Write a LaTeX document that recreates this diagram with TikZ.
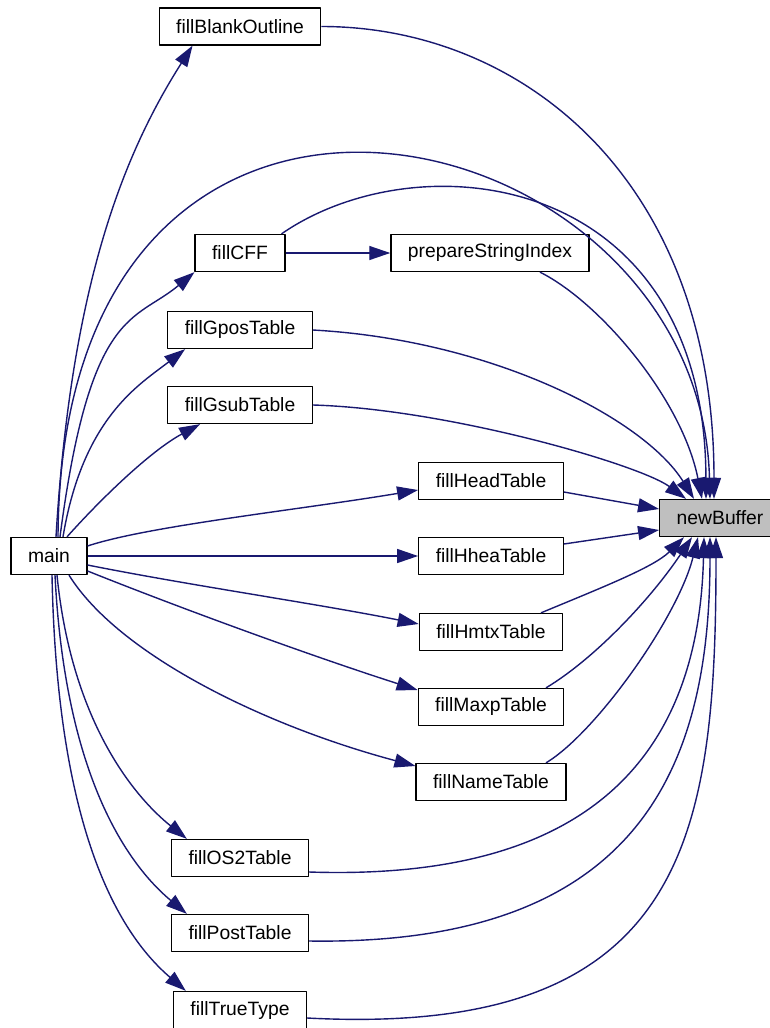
\documentclass[tikz,border=0pt]{standalone}
\usepackage{fontspec}
\setmainfont{Liberation Sans}
\usetikzlibrary{arrows.meta}
\definecolor{edgeblue}{HTML}{191970}
\begin{document}
\begin{tikzpicture}[x=1pt, y=-1pt, line join=round,
    fn/.style={draw, line width=1.3pt, fill=white, inner xsep=17pt, minimum height=37pt,
      font=\fontsize{19.3}{23}\selectfont},
    call/.style={draw=edgeblue, line width=1.4pt, -{Triangle[length=21pt, width=14pt]}}]
  \useasboundingbox (0,0) rectangle (770,1028);
  % las funciones, columna a columna
  \node[fn, fill=black!25] (nb) at (720,518) {newBuffer};
  \node[fn] (mn) at (49,556) {main};
  \node[fn] (fbo) at (240,26.5) {fillBlankOutline};
  \node[fn] (fcff) at (240,253) {fillCFF};
  \node[fn] (psi) at (490,253) {prepareStringIndex};
  \node[fn] (fgpos) at (240,330) {fillGposTable};
  \node[fn] (fgsub) at (240,405) {fillGsubTable};
  \node[fn] (fhead) at (491,481) {fillHeadTable};
  \node[fn] (fhhea) at (491,556) {fillHheaTable};
  \node[fn] (fhmtx) at (491,632) {fillHmtxTable};
  \node[fn] (fmaxp) at (491,707) {fillMaxpTable};
  \node[fn] (fname) at (491,782) {fillNameTable};
  \node[fn] (fos2) at (240,858) {fillOS2Table};
  \node[fn] (fpost) at (240,933) {fillPostTable};
  \node[fn] (ftt) at (240,1010) {fillTrueType};
  % llamadas desde main
  \draw[call] ([xshift=7pt]mn.north) .. controls +(15,-250) and +(-70,110) .. ([xshift=34pt]fbo.south west);
  \draw[call] ([xshift=11pt]mn.north) .. controls +(30,-230) and +(-60,50) .. (fcff.south west);
  \draw[call] ([xshift=14pt]mn.north) .. controls +(20,-120) and +(-45,35) .. ([xshift=18pt]fgpos.south west);
  \draw[call] ([xshift=18pt]mn.north) .. controls +(33,-37) and +(-50,27) .. ([xshift=33pt]fgsub.south west);
  \draw[call] ([yshift=10pt]mn.east) .. controls +(60,-20) and +(-120,20) .. ([yshift=-9pt]fhead.west);
  \draw[call] (mn.east) -- (fhhea.west);
  \draw[call] ([yshift=-9pt]mn.east) .. controls +(100,20) and +(-100,-20) .. ([yshift=8pt]fhmtx.west);
  \draw[call] ([yshift=-15pt]mn.east) .. controls +(100,40) and +(-100,-32) .. ([yshift=17pt]fmaxp.west);
  \draw[call] ([xshift=20pt]mn.south) .. controls +(50,80) and +(-150,-40) .. ([yshift=16pt]fname.west);
  \draw[call] ([xshift=8pt]mn.south) .. controls +(15,150) and +(-50,-40) .. ([xshift=16pt]fos2.north west);
  \draw[call] ([xshift=6pt]mn.south) .. controls +(10,200) and +(-60,-50) .. ([xshift=16pt]fpost.north west);
  \draw[call] ([xshift=3pt]mn.south) .. controls +(5,250) and +(-70,-60) .. ([xshift=13pt]ftt.north west);
  \draw[call] (fcff.east) -- (psi.west);
  % todo acaba en newBuffer
  \draw[call] ([xshift=9pt]mn.north) .. controls +(3,-577) and +(-10,-389) .. ([xshift=-10pt]nb.north);
  \draw[call] (fbo.east) .. controls +(200,0) and +(0,-320) .. ([xshift=-6pt]nb.north);
  \draw[call] ([xshift=-4pt]fcff.north east) .. controls +(137,-95) and +(-1,-329) .. ([xshift=-14pt]nb.north);
  \draw[call] ([xshift=50pt]psi.south) .. controls +(60,30) and +(-20,-100) .. ([xshift=-18pt]nb.north);
  \draw[call] (fgpos.east) .. controls +(180,10) and +(-50,-80) .. ([xshift=-26pt]nb.north);
  \draw[call] (fgsub.east) .. controls +(136,4) and +(-46,-34) .. ([xshift=-34pt]nb.north);
  \draw[call] ([yshift=-11pt]fhead.east) -- ([yshift=9pt]nb.west);
  \draw[call] ([yshift=12pt]fhhea.east) -- ([yshift=-12pt]nb.west);
  \draw[call] ([xshift=50pt]fhmtx.north) .. controls +(60,-25) and +(-30,30) .. ([xshift=-36pt]nb.south);
  \draw[call] ([xshift=55pt]fmaxp.north) .. controls +(50,-30) and +(-40,60) .. ([xshift=-28pt]nb.south);
  \draw[call] ([xshift=55pt]fname.north) .. controls +(50,-30) and +(-20,80) .. ([xshift=-22pt]nb.south);
  \draw[call] ([yshift=-14pt]fos2.east) .. controls +(300,10) and +(-5,200) .. ([xshift=-16pt]nb.south);
  \draw[call] ([yshift=-8pt]fpost.east) .. controls +(330,5) and +(0,230) .. ([xshift=-10pt]nb.south);
  \draw[call] ([yshift=-8pt]ftt.east) .. controls +(380,20) and +(0,300) .. ([xshift=-4pt]nb.south);
\end{tikzpicture}
\end{document}
